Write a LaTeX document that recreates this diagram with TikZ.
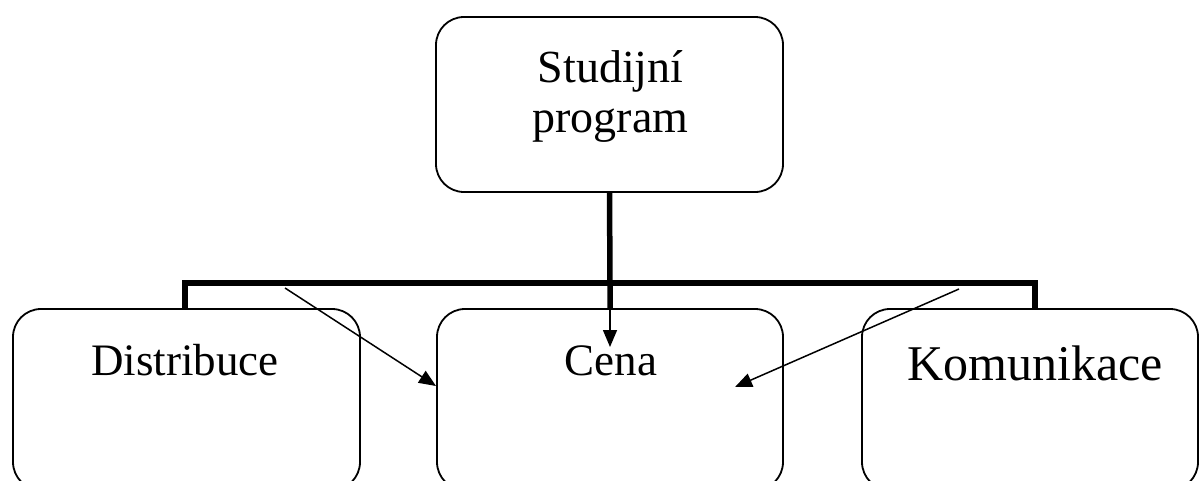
\documentclass[tikz,border=0pt]{standalone}
\usepackage{fontspec}
\setmainfont{Liberation Serif}
\usetikzlibrary{arrows.meta}
\begin{document}
\begin{tikzpicture}[x=1pt,y=-1pt,
  box/.style={draw,line width=1.8pt,rounded corners=28pt,inner sep=0pt,outer sep=0pt},
  lbl/.style={anchor=base,inner sep=0pt,align=center},
  bar/.style={line width=5.5pt},
  arr/.style={line width=1.5pt,-{Triangle[length=17pt,width=14pt]}}]
\useasboundingbox (0,0) rectangle (1199,480);
\clip (0,0) rectangle (1199,480);
\node[box,minimum width=347pt,minimum height=175pt] (top) at (609.5,104.5) {};
\node[box,minimum width=347pt,minimum height=181pt] (dist) at (186.5,399.5) {};
\node[box,minimum width=346pt,minimum height=181pt] (cena) at (610,399.5) {};
\node[box,minimum width=336pt,minimum height=181pt] (kom) at (1030,399.5) {};
\node[lbl,font=\fontsize{46}{50}\selectfont] (ttop) at (610.5,132) {Studijní\\program};
\node[lbl,font=\fontsize{45}{50}\selectfont] (tdist) at (185,375) {Distribuce};
\node[lbl,font=\fontsize{45}{50}\selectfont] (tcena) at (611,375) {Cena};
\node[lbl,font=\fontsize{50}{55}\selectfont] (tkom) at (1035,380) {Komunikace};
\coordinate (j) at (610,283);
\coordinate (jl) at (185,283);
\coordinate (jr) at (1035,283);
\draw[bar] (top.south) -- (j) -- (cena.north);
\draw[bar] (jl |- dist.north) -- (jl) -- (jr) -- (jr |- kom.north);
\coordinate (a1) at (285,288);
\coordinate (t1) at (436,386);
\coordinate (a3) at (959,289);
\coordinate (t3) at (735,387);
\coordinate (t2) at (610,347);
\draw[arr] (a1) -- (t1);
\draw[arr] (cena.north) -- (t2);
\draw[arr] (a3) -- (t3);
\end{tikzpicture}
\end{document}
